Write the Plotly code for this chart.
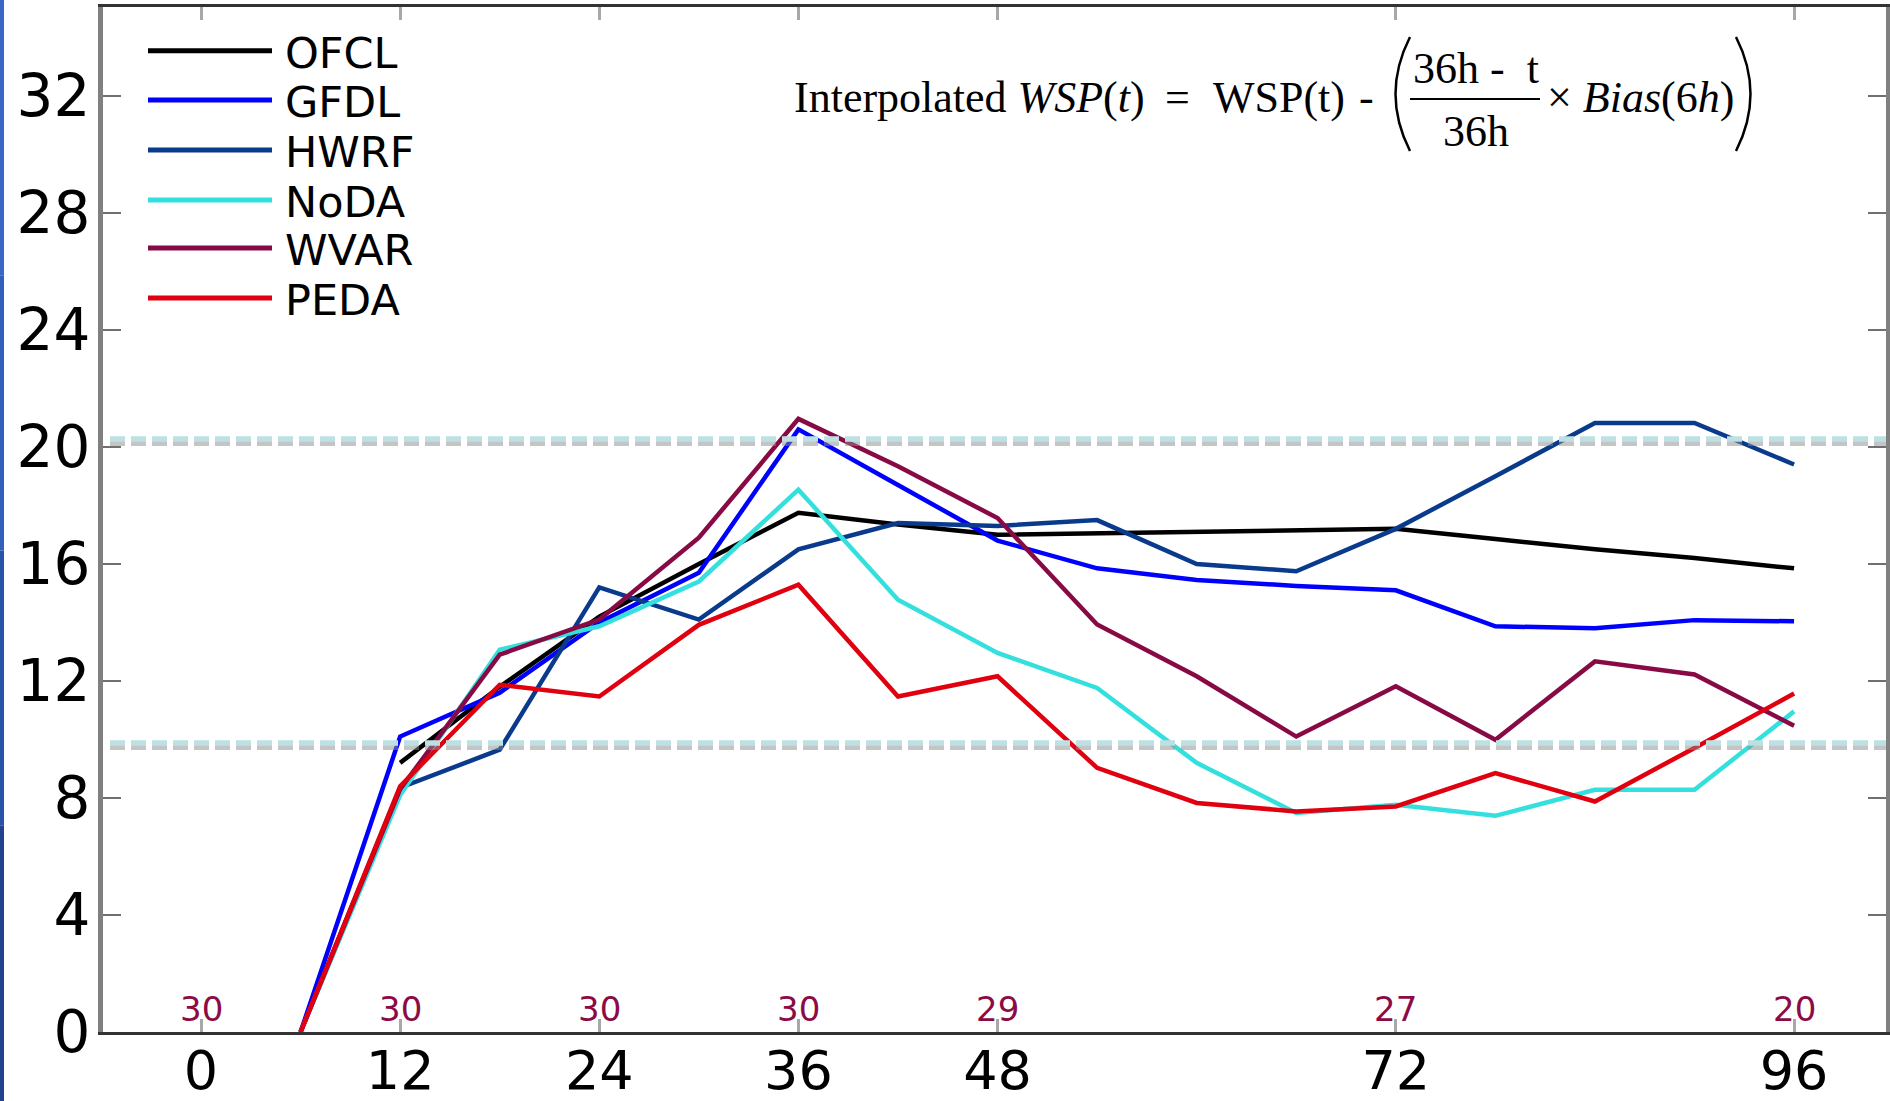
import plotly.graph_objects as go

# Forecast hours and mean wind-speed error (kt) for each model
hours = [6, 12, 18, 24, 30, 36, 42, 48, 54, 60, 66, 72, 78, 84, 90, 96]

ofcl = [None, 9.2, 11.8, 14.2, 16.0, 17.75, 17.35, 17.0, 17.05, 17.1, 17.15, 17.2, 16.85, 16.5, 16.2, 15.85]
gfdl = [0, 10.1, 11.6, 14.0, 15.7, 20.6, 18.7, 16.8, 15.85, 15.45, 15.25, 15.1, 13.87, 13.8, 14.08, 14.04]
hwrf = [0, 8.35, 9.65, 15.2, 14.1, 16.5, 17.4, 17.3, 17.5, 16.0, 15.75, 17.2, 19.0, 20.82, 20.82, 19.4]
noda = [0, 8.1, 13.07, 13.87, 15.4, 18.54, 14.78, 12.96, 11.76, 9.2, 7.49, 7.77, 7.39, 8.28, 8.28, 10.96]
wvar = [0, 8.3, 12.9, 14.1, 16.9, 20.96, 19.34, 17.57, 13.93, 12.16, 10.1, 11.82, 9.99, 12.67, 12.22, 10.47]
peda = [0, 8.4, 11.87, 11.47, 13.92, 15.29, 11.47, 12.16, 9.03, 7.83, 7.54, 7.71, 8.85, 7.88, 9.71, 11.57]

series_names = ["OFCL", "GFDL", "HWRF", "NoDA", "WVAR", "PEDA"]
series_values = [ofcl, gfdl, hwrf, noda, wvar, peda]
series_colors = ["#000000", "#0000FF", "#0A3A8C", "#33E0DE", "#880A44", "#E0000F"]

# Number of cases verified at each labelled lead time
count_hours = [0, 12, 24, 36, 48, 72, 96]
count_values = [30, 30, 30, 30, 29, 27, 20]

x_tick_vals = [0, 12, 24, 36, 48, 72, 96]
y_tick_vals = [0, 4, 8, 12, 16, 20, 24, 28, 32]

# Reference levels drawn as dashed lines
ref_levels = [20.27, 9.88]

# Page geometry (pixels)
FIG_W, FIG_H = 1890, 1101
L, R, T, B = 103, 4, 7, 69
PW = FIG_W - L - R
PH = FIG_H - T - B


def px(x):
    return (x - L) / PW


def py(y):
    return (T + PH - y) / PH


X_RANGE = [-5.906, 101.54]
Y_RANGE = [0, 35.04]

SANS = "DejaVu Sans"
SERIF = "Liberation Serif"

fig = go.Figure()

for name, vals, color in zip(series_names, series_values, series_colors):
    fig.add_trace(go.Scatter(
        x=hours, y=vals, mode="lines", name=name,
        line=dict(color=color, width=4.5),
        showlegend=False, hoverinfo="skip",
    ))

shapes = []
annotations = []

# Dashed reference levels with a soft grey shadow beneath
for lvl in ref_levels:
    shadow = lvl - 4.5 / 29.25
    shapes.append(dict(type="line", xref="paper", yref="y", x0=px(110), x1=1.0,
                       y0=shadow, y1=shadow, layer="above",
                       line=dict(color="rgba(140,140,140,0.5)", width=5, dash="15px,6px")))
    shapes.append(dict(type="line", xref="paper", yref="y", x0=px(110), x1=1.0,
                       y0=lvl, y1=lvl, layer="above",
                       line=dict(color="#BDE0E3", width=5.5, dash="15px,6px")))

# Legend drawn by hand with long line samples
legend_rows = [50.7, 100, 150, 200, 248, 298]
for name, color, ry in zip(series_names, series_colors, legend_rows):
    shapes.append(dict(type="line", xref="paper", yref="paper",
                       x0=px(148), x1=px(272), y0=py(ry), y1=py(ry),
                       line=dict(color=color, width=5)))
    annotations.append(dict(xref="paper", yref="paper", x=px(283), y=py(ry + 2),
                            xanchor="left", yanchor="middle", showarrow=False,
                            text=name, font=dict(family=SANS, size=43, color="black")))

# Case counts along the bottom
for h, c in zip(count_hours, count_values):
    annotations.append(dict(xref="x", yref="y", x=h, y=0, xanchor="center",
                            yanchor="bottom", yshift=1, showarrow=False,
                            text=str(c), font=dict(family=SANS, size=34, color="#8C0A46")))

# Formula text
fsize = 44
annotations += [
    dict(xref="paper", yref="paper", x=px(792), y=py(98), xanchor="left", yanchor="middle",
         showarrow=False, text="Interpolated <i>WSP</i>(<i>t</i>)",
         font=dict(family=SERIF, size=fsize, color="black")),
    dict(xref="paper", yref="paper", x=px(1177), y=py(98), xanchor="center", yanchor="middle",
         showarrow=False, text="=", font=dict(family=SERIF, size=fsize, color="black")),
    dict(xref="paper", yref="paper", x=px(1211), y=py(98), xanchor="left", yanchor="middle",
         showarrow=False, text="WSP(t)", font=dict(family=SERIF, size=fsize, color="black")),
    dict(xref="paper", yref="paper", x=px(1366), y=py(98), xanchor="center", yanchor="middle",
         showarrow=False, text="-", font=dict(family=SERIF, size=fsize, color="black")),
    dict(xref="paper", yref="paper", x=px(1476), y=py(68), xanchor="center", yanchor="middle",
         showarrow=False, text="36h -  t", font=dict(family=SERIF, size=fsize, color="black")),
    dict(xref="paper", yref="paper", x=px(1476), y=py(131), xanchor="center", yanchor="middle",
         showarrow=False, text="36h", font=dict(family=SERIF, size=fsize, color="black")),
    dict(xref="paper", yref="paper", x=px(1545), y=py(98), xanchor="left", yanchor="middle",
         showarrow=False, text="× <i>Bias</i>(6<i>h</i>)",
         font=dict(family=SERIF, size=fsize, color="black")),
]

# Fraction bar and tall parentheses
shapes.append(dict(type="line", xref="paper", yref="paper",
                   x0=px(1410), x1=px(1540), y0=py(99), y1=py(99),
                   line=dict(color="black", width=2)))
shapes.append(dict(type="path", xref="paper", yref="paper",
                   path=f"M {px(1410)},{py(37)} Q {px(1381)},{py(94)} {px(1410)},{py(151)}",
                   line=dict(color="black", width=2.5)))
shapes.append(dict(type="path", xref="paper", yref="paper",
                   path=f"M {px(1736)},{py(37)} Q {px(1765)},{py(94)} {px(1736)},{py(151)}",
                   line=dict(color="black", width=2.5)))

# Blue strip along the left page edge
strip_cols = ["#3867C8", "#3160BC", "#2A52A8", "#22428E"]
seg = FIG_H / len(strip_cols)
for i, col in enumerate(strip_cols):
    shapes.append(dict(type="rect", xref="paper", yref="paper",
                       x0=px(0), x1=px(4), y0=py(i * seg), y1=py((i + 1) * seg),
                       fillcolor=col, line=dict(width=0)))

fig.update_layout(
    width=FIG_W, height=FIG_H,
    margin=dict(l=L, r=R, t=T, b=B, pad=0, autoexpand=False),
    paper_bgcolor="white", plot_bgcolor="white",
    showlegend=False,
    shapes=shapes, annotations=annotations,
    xaxis=dict(range=X_RANGE, tickvals=x_tick_vals, ticktext=[str(v) for v in x_tick_vals],
               ticks="inside", ticklen=13, tickwidth=3, tickcolor="#A8A8A8",
               showline=True, linecolor="#333333", linewidth=3, mirror="ticks",
               showgrid=False, zeroline=False, ticklabelstandoff=-11, automargin=False,
               tickfont=dict(family=SANS, size=54, color="black")),
    yaxis=dict(range=Y_RANGE, tickvals=y_tick_vals, ticktext=[str(v) for v in y_tick_vals],
               ticks="inside", ticklen=18, tickwidth=2, tickcolor="#707070",
               showline=True, linecolor="#808080", linewidth=5, mirror="ticks",
               showgrid=False, zeroline=False, ticklabelstandoff=-4, automargin=False,
               tickfont=dict(family=SANS, size=58, color="black")),
)

fig.write_html("out.html")
